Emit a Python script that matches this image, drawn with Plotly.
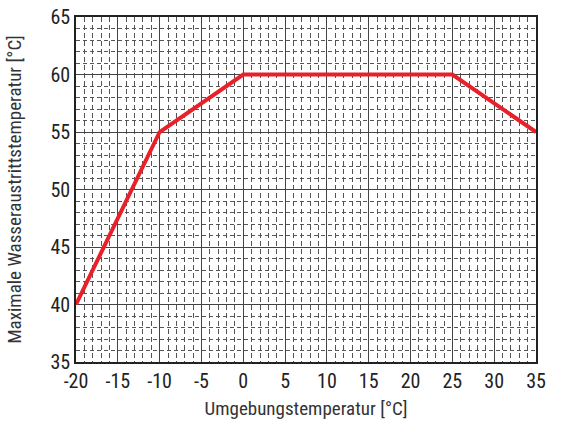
import plotly.graph_objects as go

# Umgebungstemperatur [°C] vs. maximale Wasseraustrittstemperatur [°C]
ambient_temp = [-20, -10, 0, 25, 35]
max_water_temp = [40, 55, 60, 60, 55]

x_ticks = [-20, -15, -10, -5, 0, 5, 10, 15, 20, 25, 30, 35]
y_ticks = [35, 40, 45, 50, 55, 60, 65]

font_family = "Roboto Condensed, Arial Narrow, sans-serif"

fig = go.Figure()
fig.add_trace(go.Scatter(
    x=ambient_temp,
    y=max_water_temp,
    mode="lines",
    line=dict(color="#e8202a", width=4),
    showlegend=False,
))

axis_common = dict(
    showline=True,
    linecolor="#222222",
    linewidth=1.5,
    mirror=True,
    showgrid=True,
    gridcolor="#444444",
    gridwidth=1,
    zeroline=False,
    ticks="",
    automargin=False,
    ticklabeloverflow="allow",
    tickfont=dict(size=20, color="#222222", family=font_family),
    title_font=dict(size=19, color="#333333", family=font_family),
)

fig.update_xaxes(
    range=[-20, 35],
    tickvals=x_ticks,
    ticktext=[str(t) for t in x_ticks],
    title_text="Umgebungstemperatur [°C]",
    title_standoff=10,
    minor=dict(dtick=1, showgrid=True, gridcolor="#555555", gridwidth=1, griddash="5px,3px"),
    **axis_common,
)
fig.update_yaxes(
    range=[35, 65],
    tickvals=y_ticks,
    ticktext=[str(t) for t in y_ticks],
    title_text="Maximale Wasseraustrittstemperatur [°C]",
    title_standoff=24,
    minor=dict(dtick=1, showgrid=True, gridcolor="#555555", gridwidth=1, griddash="4px,3px"),
    **axis_common,
)

fig.update_layout(
    width=561,
    height=428,
    margin=dict(l=76, r=25, t=17, b=66),
    paper_bgcolor="white",
    plot_bgcolor="white",
    font=dict(family=font_family),
)

# drop the default 8px body margin so the figure fills the window
fig.write_html(
    "out.html",
    config={"displayModeBar": False},
    post_script="document.body.style.margin='0';",
)
